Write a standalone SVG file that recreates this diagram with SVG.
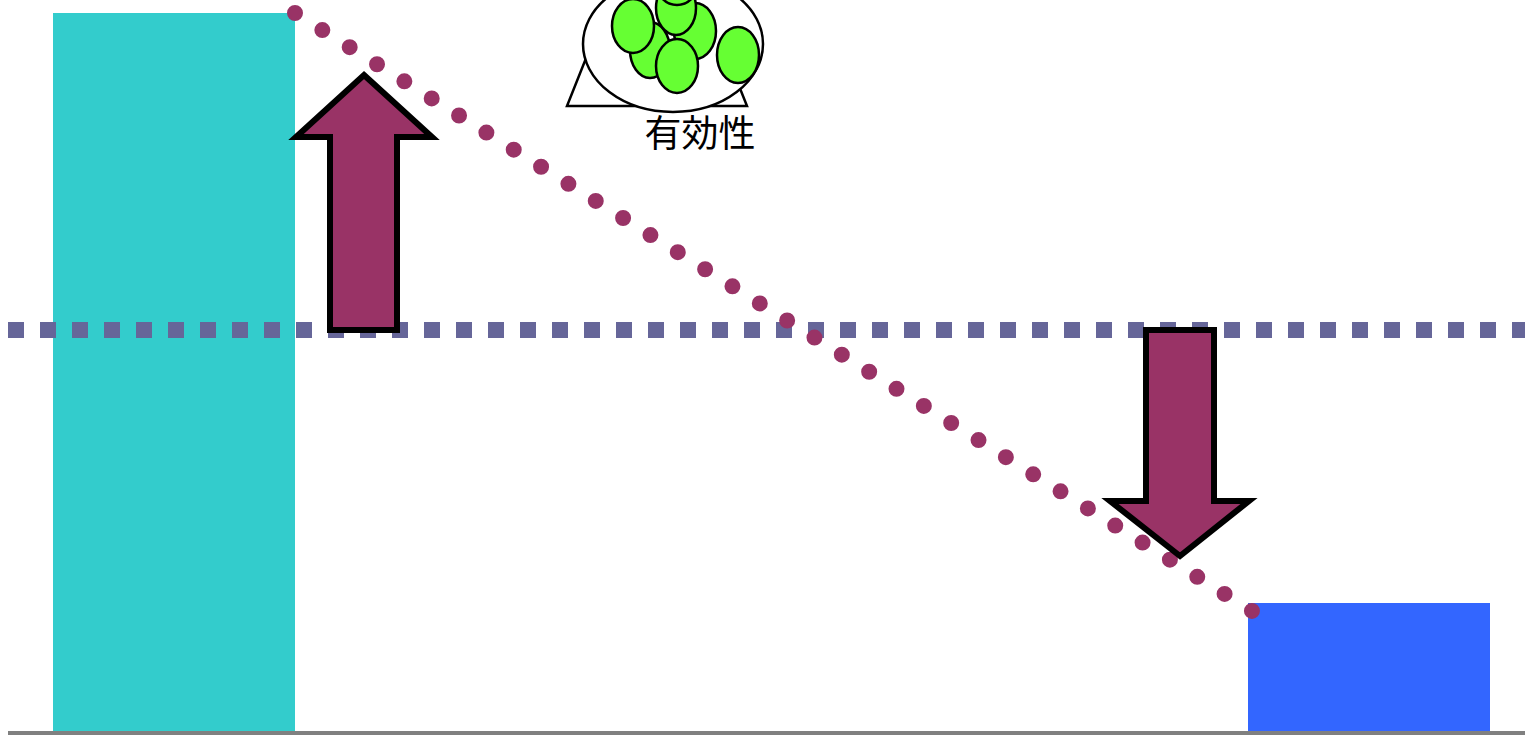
<svg xmlns="http://www.w3.org/2000/svg" width="1525" height="735" viewBox="0 0 1525 735">
  <style>
    .bar-a { fill: #33CCCC; }
    .bar-b { fill: #3366FF; }
    .axis { stroke: #808080; stroke-width: 4; fill: none; }
    .avg { stroke: #666699; stroke-width: 16; stroke-dasharray: 16 16; fill: none; }
    .trend { stroke: #993366; stroke-width: 16; stroke-linecap: round; stroke-dasharray: 0 32.24; fill: none; }
    .arrow { fill: #993366; stroke: #000000; stroke-width: 6; stroke-linejoin: miter; }
    .bowl { fill: #FFFFFF; stroke: #000000; stroke-width: 2.5; }
    .grape { fill: #66FF33; stroke: #000000; stroke-width: 2.5; }
    .label { font-family: "Noto Sans CJK JP", "Noto Sans CJK SC", sans-serif; font-size: 37px; fill: #000000; }
  </style>

  <!-- bars -->
  <g id="bar-left">
    <rect class="bar-a" x="53" y="13" width="242" height="720"/>
  </g>
  <g id="bar-right">
    <rect class="bar-b" x="1248" y="603" width="242" height="130"/>
  </g>

  <!-- lines -->
  <g id="connectors">
    <line class="axis" x1="8" y1="733" x2="1525" y2="733"/>
    <line class="avg" x1="8" y1="330" x2="1525" y2="330"/>
    <line class="trend" x1="295" y1="13" x2="1252" y2="611"/>
  </g>

  <!-- arrows -->
  <g id="arrow-up">
    <polygon class="arrow" points="364,75 432,137 397,137 397,330 330,330 330,137 296,137"/>
  </g>
  <g id="arrow-down">
    <polygon class="arrow" points="1146,330 1214,330 1214,501 1249,501 1180,556 1110,501 1146,501"/>
  </g>

  <!-- fruit bowl icon -->
  <g id="icon-effectiveness">
    <polygon class="bowl" points="567,106 747,106 657,-120"/>
    <ellipse class="bowl" cx="673" cy="44" rx="90" ry="68"/>
    <ellipse class="grape" cx="650" cy="50" rx="20" ry="28"/>
    <ellipse class="grape" cx="695" cy="31" rx="21" ry="28"/>
    <ellipse class="grape" cx="676" cy="8" rx="20" ry="27"/>
    <ellipse class="grape" cx="677" cy="-20" rx="22" ry="25"/>
    <ellipse class="grape" cx="633" cy="26" rx="21" ry="27"/>
    <ellipse class="grape" cx="677" cy="66" rx="21" ry="27"/>
    <ellipse class="grape" cx="738" cy="55" rx="21" ry="28"/>
    <text class="label" x="700" y="147" text-anchor="middle">有効性</text>
  </g>
</svg>
